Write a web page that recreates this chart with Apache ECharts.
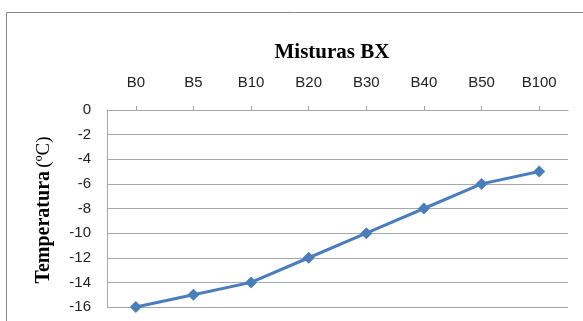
<!DOCTYPE html>
<html>
<head>
<meta charset="utf-8">
<script src="https://cdn.jsdelivr.net/npm/echarts@6/dist/echarts.min.js"></script>
<style>
  html, body { margin: 0; padding: 0; background: #ffffff; }
  #chart { width: 583px; height: 321px; }
</style>
</head>
<body>
<div id="chart"></div>
<script>
// Blend categories and their freezing temperatures (°C)
const categories = ['B0', 'B5', 'B10', 'B20', 'B30', 'B40', 'B50', 'B100'];
const temperatures = [-16, -15, -14, -12, -10, -8, -6, -5];
const yTicks = { min: -16, max: 0, interval: 2 };

const labelFont = 'Liberation Sans, Arial, sans-serif';
const serifFont = 'Liberation Serif, Times New Roman, serif';

const chart = echarts.init(document.getElementById('chart'), null, { renderer: 'canvas' });

chart.setOption({
  backgroundColor: '#ffffff',
  animation: false,
  title: {
    text: 'Misturas BX',
    left: 327,
    top: 37,
    textAlign: 'center',
    textStyle: { fontFamily: serifFont, fontWeight: 'bold', fontSize: 21, color: '#000000' }
  },
  grid: { left: 107, right: 15, top: 110, bottom: 14, containLabel: false },
  xAxis: {
    type: 'category',
    position: 'top',
    data: categories,
    boundaryGap: true,
    axisLine: { show: true, lineStyle: { color: '#a6a6a6', width: 1 } },
    axisTick: { show: true, alignWithLabel: true, length: 4, lineStyle: { color: '#a6a6a6' } },
    axisLabel: { fontFamily: labelFont, fontSize: 15, color: '#222222', margin: 20 },
    splitLine: { show: false }
  },
  yAxis: {
    type: 'value',
    min: yTicks.min,
    max: yTicks.max,
    interval: yTicks.interval,
    axisLine: { show: true, lineStyle: { color: '#a6a6a6', width: 1 } },
    axisTick: { show: false },
    axisLabel: { fontFamily: labelFont, fontSize: 15, color: '#222222', margin: 16 },
    splitLine: { show: true, lineStyle: { color: '#a6a6a6', width: 1 } }
  },
  graphic: [
    {
      type: 'rect',
      shape: { x: 6.5, y: 12.5, width: 640, height: 400 },
      style: { fill: null, stroke: '#888888', lineWidth: 1 },
      silent: true,
      z: -1
    },
    {
      type: 'text',
      x: 44,
      y: 210,
      rotation: Math.PI / 2,
      style: {
        text: '{b|Temperatura} {r|(ºC)}',
        align: 'center',
        verticalAlign: 'middle',
        rich: {
          b: { fontFamily: serifFont, fontWeight: 'bold', fontSize: 20, fill: '#000000' },
          r: { fontFamily: serifFont, fontWeight: 'normal', fontSize: 19, fill: '#000000' }
        }
      }
    }
  ],
  series: [
    {
      type: 'line',
      data: temperatures,
      symbol: 'diamond',
      symbolSize: 12,
      lineStyle: { color: '#4a7ebb', width: 3 },
      itemStyle: { color: '#4a7ebb' },
      clip: false
    }
  ]
});
</script>
</body>
</html>
